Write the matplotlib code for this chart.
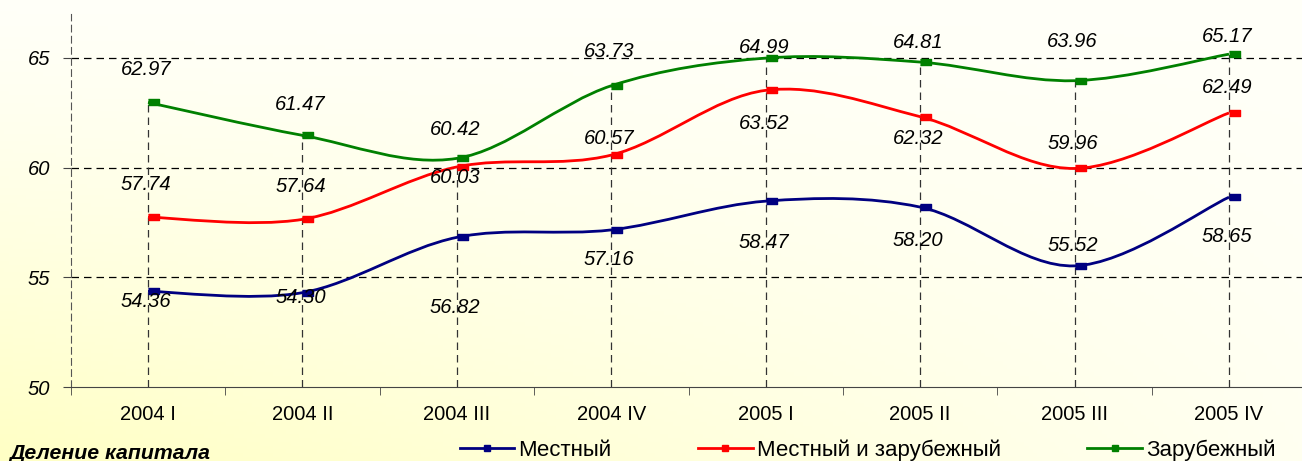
import numpy as np
import matplotlib.pyplot as plt
from matplotlib.path import Path
from matplotlib.patches import PathPatch
from matplotlib.lines import Line2D

quarters = ["2004 I", "2004 II", "2004 III", "2004 IV",
            "2005 I", "2005 II", "2005 III", "2005 IV"]

local = [54.36, 54.30, 56.82, 57.16, 58.47, 58.20, 55.52, 58.65]
mixed = [57.74, 57.64, 60.03, 60.57, 63.52, 62.32, 59.96, 62.49]
foreign = [62.97, 61.47, 60.42, 63.73, 64.99, 64.81, 63.96, 65.17]

names = ["Местный", "Местный и зарубежный", "Зарубежный"]
colors = ["#000080", "#ff0000", "#008000"]

# label offsets in pixels, positive = below the point
label_dy = [
    [10, 5, 70, 30, 41, 33, -20, 39],
    [-33, -33, 11, -17, 33, 22, -25, -25],
    [-33, -31, -29, -34, -11, -20, -39, -18],
]

W, H = 1302, 461
FONT = "Liberation Sans"
fig = plt.figure(figsize=(W / 100, H / 100), dpi=100)

# background gradient: white at top, pale yellow towards bottom-left
bg = fig.add_axes([0, 0, 1, 1], zorder=-10)
gx, gy = np.meshgrid(np.linspace(0, 1, 300), np.linspace(0, 1, 120))
t = np.clip(gy ** 1.2 * (1 - 0.85 * gx), 0, 1)
c0 = np.array([1.0, 1.0, 0.975])
c1 = np.array([1.0, 1.0, 0.77])
img = c0[None, None, :] * (1 - t[..., None]) + c1[None, None, :] * t[..., None]
bg.imshow(img, aspect="auto", extent=[0, 1, 0, 1], origin="upper")
bg.axis("off")

left, right = 70.8, 1306.2
bottom, top = 387, 14
ax = fig.add_axes([left / W, (H - bottom) / H, (right - left) / W, (bottom - top) / H])
ax.patch.set_alpha(0)

x = np.arange(len(quarters))
ax.set_xlim(-0.5, 7.5)
ax.set_ylim(50, 67)

# gridlines
for yv in [55, 60, 65]:
    ax.axhline(yv, color="black", lw=0.9, ls=(0, (6, 4)), zorder=1)
ax.vlines(x, 50, foreign, color="#333333", lw=0.9, ls=(0, (6, 4)), zorder=1)


def smooth_path(xs, ys):
    pts = np.column_stack([xs, ys])
    n = len(pts)
    verts = [pts[0]]
    codes = [Path.MOVETO]
    for i in range(n - 1):
        p0 = pts[max(i - 1, 0)]
        p1 = pts[i]
        p2 = pts[i + 1]
        p3 = pts[min(i + 2, n - 1)]
        verts += [p1 + (p2 - p0) / 6, p2 - (p3 - p1) / 6, p2]
        codes += [Path.CURVE4] * 3
    return Path(verts, codes)


marker = [(0, -0.32), (1.3, -0.32), (1.3, 0.32), (0, 0.32)]
handles = []
for vals, col, dys in zip([local, mixed, foreign], colors, label_dy):
    ax.add_patch(PathPatch(smooth_path(x, vals), fill=False, edgecolor=col,
                           lw=2.0, zorder=3))
    ax.plot(x, vals, ls="none", marker=marker, ms=16, color=col, zorder=4)
    for xi, v, dy in zip(x, vals, dys):
        ax.annotate(f"{v:.2f}", (xi, v), xytext=(-2, -dy),
                    textcoords="offset pixels", ha="center", va="center",
                    fontsize=14.5, style="italic", family=FONT, zorder=5)
    handles.append(Line2D([], [], color=col, lw=2.0, marker="s", ms=4))

for s in ["top", "right"]:
    ax.spines[s].set_visible(False)
ax.spines["left"].set_linestyle((0, (6, 4)))
ax.spines["left"].set_color("#555555")
ax.spines["bottom"].set_color("#444444")

ax.set_yticks([50, 55, 60, 65])
ax.set_yticklabels(["50", "55", "60", "65"], fontsize=14.5, style="italic",
                   family=FONT)
ax.tick_params(axis="y", length=6, color="#444444", pad=9)
ax.set_xticks(x)
ax.set_xticklabels(quarters, fontsize=14.5, family=FONT)
ax.tick_params(axis="x", which="major", length=0, pad=13)
ax.set_xticks(np.arange(-0.5, 7.6, 1), minor=True)
ax.tick_params(axis="x", which="minor", length=6, color="#444444")

fig.legend(handles, names, loc="center left", bbox_to_anchor=(460 / W, 11 / H),
           ncol=3, frameon=False, handlelength=2.45, handletextpad=0.18,
           columnspacing=3.9, borderpad=0, borderaxespad=0,
           prop={"family": FONT, "size": 16})

fig.text(10 / W, 8 / H, "Деление капитала", fontsize=15.3, style="italic",
         weight="bold", family=FONT, va="center", ha="left")

fig.savefig("out.png", dpi=100)
